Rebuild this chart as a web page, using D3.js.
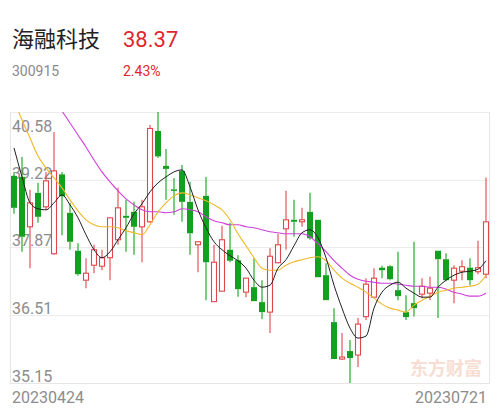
<!DOCTYPE html>
<html><head><meta charset="utf-8">
<script src="https://cdn.jsdelivr.net/npm/d3@7"></script>
<style>
html,body{margin:0;padding:0;background:#fff;}
svg{display:block;}
</style></head>
<body>
<svg id="chart" width="500" height="410"></svg>
<script>
const stockName = "海融科技";
const stockCode = "300915";
const lastPrice = "38.37";
const changePct = "2.43%";
const watermark = "东方财富";

const dates = ["20230424","20230425","20230426","20230427","20230428",
"20230504","20230505","20230508","20230509","20230510","20230511","20230512",
"20230515","20230516","20230517","20230518","20230519","20230522","20230523",
"20230524","20230525","20230526","20230529","20230530","20230531",
"20230601","20230602","20230605","20230606","20230607","20230608","20230609",
"20230612","20230613","20230614","20230615","20230616","20230619","20230620",
"20230621","20230626","20230627","20230628","20230629","20230630",
"20230703","20230704","20230705","20230706","20230707",
"20230710","20230711","20230712","20230713","20230714",
"20230717","20230718","20230719","20230720","20230721"];

const opens  = [39.30,39.28,38.28,38.96,38.68,37.74,39.33,38.56,37.80,37.21,37.51,37.49,37.66,38.02,38.50,38.58,38.28,38.38,40.20,39.50,
                39.03,39.40,38.78,37.92,38.90,36.78,36.99,37.82,37.61,36.97,37.07,36.77,36.57,37.56,38.24,38.42,38.38,38.58,38.42,37.31,
                36.37,35.63,35.79,35.71,36.48,36.87,37.46,37.49,37.01,36.57,36.75,36.93,36.95,37.80,37.63,37.21,37.39,37.46,37.38,37.33];
const highs  = [39.38,39.68,39.02,39.16,39.38,40.18,39.38,38.76,37.95,37.65,37.92,37.82,38.46,39.06,38.82,38.78,38.82,40.32,40.58,39.84,
                39.26,39.52,39.18,37.98,39.28,37.92,38.30,38.36,37.71,37.25,37.65,37.21,37.85,38.14,39.00,38.82,38.66,38.96,38.42,37.55,
                36.65,36.15,36.01,36.45,37.25,37.45,37.50,37.51,37.78,36.91,37.98,37.25,37.28,37.80,37.75,37.51,37.61,37.65,38.00,39.27];
const lows   = [38.54,37.78,37.45,38.36,38.62,37.72,38.11,37.82,37.30,37.05,37.35,37.41,37.21,37.92,37.78,37.72,37.57,38.36,39.66,38.82,
                38.52,38.38,37.72,37.37,36.81,36.78,36.99,37.57,36.88,36.87,36.79,36.43,36.15,37.55,37.82,38.08,38.28,38.02,37.27,36.81,
                35.63,35.61,35.15,35.47,36.41,36.87,37.25,37.21,36.81,36.41,36.48,36.85,36.81,36.45,37.19,36.75,37.21,37.11,37.33,37.25];
const closes = [38.66,38.08,38.76,38.48,39.20,39.40,38.89,37.98,37.33,37.35,37.82,37.66,38.46,38.66,38.46,38.28,38.68,40.25,39.69,39.44,
                39.01,38.78,38.15,37.98,37.57,37.57,38.02,37.60,37.03,37.25,36.79,36.57,37.69,37.92,38.42,38.38,38.42,38.05,37.27,36.81,
                35.63,35.67,35.65,36.33,37.13,37.25,37.41,37.23,36.89,36.47,36.65,37.09,37.05,37.63,37.21,37.45,37.48,37.21,37.46,38.38];

const ma5  = [39.86,39.28,38.76,38.64,38.62,38.76,38.92,38.72,38.46,38.12,37.82,37.66,37.78,38.02,38.26,38.54,38.74,38.98,39.16,39.28,
              39.38,39.42,39.08,38.62,38.26,37.98,37.82,37.70,37.60,37.45,37.21,37.07,37.11,37.45,37.62,37.90,38.16,38.22,38.06,37.66,
              37.11,36.65,36.25,36.05,36.09,36.65,36.97,37.11,37.17,37.05,36.95,36.87,36.87,37.07,37.21,37.31,37.37,37.39,37.43,37.60];
const ma10 = [40.82,40.42,40.06,39.70,39.46,39.26,39.06,38.82,38.60,38.42,38.32,38.28,38.28,38.26,38.20,38.16,38.12,38.32,38.58,38.76,
              38.90,38.96,38.92,38.86,38.80,38.72,38.62,38.42,38.14,37.90,37.66,37.45,37.41,37.41,37.51,37.58,37.62,37.66,37.68,37.60,
              37.41,37.25,37.15,37.07,36.97,36.85,36.73,36.65,36.61,36.57,36.71,36.81,36.89,36.97,37.01,37.05,37.07,37.09,37.13,37.31];
const ma20 = [42.04,41.80,41.56,41.32,41.08,40.84,40.60,40.36,40.12,39.88,39.62,39.38,39.18,39.00,38.84,38.72,38.62,38.58,38.58,38.56,
              38.58,38.64,38.62,38.58,38.48,38.40,38.36,38.32,38.32,38.28,38.26,38.22,38.18,38.16,38.14,38.14,38.14,38.08,37.94,37.78,
              37.60,37.45,37.31,37.23,37.19,37.17,37.15,37.15,37.13,37.11,37.09,37.09,37.07,37.07,37.03,36.97,36.93,36.89,36.89,36.95];

const yTicks = [40.58, 39.22, 37.87, 36.51, 35.15];
const yTickLabels = ["40.58","39.22","37.87","36.51","35.15"];

const svg = d3.select("#chart");
const pLeft = 10, pRight = 490, pTop = 112, pBottom = 383;
const upColor = "#e0464a", downColor = "#12a01e";

// header
svg.append("text").attr("x",12).attr("y",47).attr("font-family","'Noto Sans CJK SC', sans-serif")
  .attr("font-size",22).attr("fill","#222").text(stockName);
svg.append("text").attr("x",123).attr("y",47).attr("font-family","Roboto, sans-serif")
  .attr("font-size",22).attr("fill","#e0262e").text(lastPrice);
svg.append("text").attr("x",12).attr("y",76).attr("font-family","Roboto, sans-serif")
  .attr("font-size",14).attr("fill","#8a8a8a").text(stockCode);
svg.append("text").attr("x",123).attr("y",76).attr("font-family","Roboto, sans-serif")
  .attr("font-size",14).attr("fill","#e0262e").text(changePct);

const x = d3.scaleBand().domain(dates).range([pLeft, pRight]).paddingInner(0.25).paddingOuter(0.125);
const y = d3.scaleLinear().domain([yTicks[4], yTicks[0]]).range([pBottom, pTop]);

// grid
svg.append("g").selectAll("line").data(yTicks).join("line")
  .attr("x1",pLeft).attr("x2",pRight).attr("y1",d=>Math.round(y(d))+0.5).attr("y2",d=>Math.round(y(d))+0.5)
  .attr("stroke","#ececec").attr("stroke-width",1);
svg.append("line").attr("x1",pLeft+0.5).attr("x2",pLeft+0.5).attr("y1",pTop).attr("y2",pBottom).attr("stroke","#e6e6e6");
svg.append("line").attr("x1",pRight-0.5).attr("x2",pRight-0.5).attr("y1",pTop).attr("y2",pBottom).attr("stroke","#e6e6e6");

// watermark
svg.append("text").attr("x",482).attr("y",375).attr("text-anchor","end")
  .attr("font-family","'Noto Sans CJK SC', sans-serif").attr("font-weight",700)
  .attr("font-size",18).attr("fill","#f7ddd2").text(watermark);

// y labels
svg.append("g").selectAll("text").data(yTicks).join("text")
  .attr("x",12).attr("y",(d,i)=> i===0 ? y(d)+20 : y(d)-1)
  .attr("font-family","Roboto, sans-serif").attr("font-size",16).attr("fill","#8c8c8c")
  .text((d,i)=>yTickLabels[i]);

// candles
const candles = dates.map((d,i)=>({d, o:opens[i], h:highs[i], l:lows[i], c:closes[i]}));
const bw = x.bandwidth();
const g = svg.append("g");
candles.forEach(k=>{
  const up = k.c >= k.o;
  const col = up ? upColor : downColor;
  const cx = x(k.d) + bw/2;
  const yt = y(Math.max(k.o,k.c)), yb = y(Math.min(k.o,k.c));
  g.append("line").attr("x1",cx).attr("x2",cx).attr("y1",y(k.h)).attr("y2",yt)
    .attr("stroke",col).attr("stroke-width",1.1);
  g.append("line").attr("x1",cx).attr("x2",cx).attr("y1",yb).attr("y2",y(k.l))
    .attr("stroke",col).attr("stroke-width",1.1);
  if (up) {
    g.append("rect").attr("x",x(k.d)+0.5).attr("y",yt).attr("width",bw-1).attr("height",Math.max(1,yb-yt))
      .attr("fill","#fff").attr("stroke",col).attr("stroke-width",1.1);
  } else {
    g.append("rect").attr("x",x(k.d)).attr("y",yt).attr("width",bw).attr("height",Math.max(1.5,yb-yt))
      .attr("fill",col);
  }
});

// MA lines
svg.append("clipPath").attr("id","clip").append("rect")
  .attr("x",pLeft).attr("y",pTop).attr("width",pRight-pLeft).attr("height",pBottom-pTop);
const line = d3.line().x((d,i)=>x(dates[i])+bw/2).y(d=>y(d)).curve(d3.curveMonotoneX);
const lg = svg.append("g").attr("clip-path","url(#clip)");
lg.append("path").attr("d",line(ma20)).attr("fill","none").attr("stroke","#d040d8").attr("stroke-width",1.1);
lg.append("path").attr("d",line(ma10)).attr("fill","none").attr("stroke","#f0b82a").attr("stroke-width",1.1);
lg.append("path").attr("d",line(ma5)).attr("fill","none").attr("stroke","#222").attr("stroke-width",1);

// bottom frame
svg.append("line").attr("x1",pLeft).attr("x2",pRight).attr("y1",pBottom+0.5).attr("y2",pBottom+0.5).attr("stroke","#e6e6e6");

// x labels
svg.append("text").attr("x",12).attr("y",403).attr("font-family","Roboto, sans-serif")
  .attr("font-size",16).attr("fill","#8c8c8c").text(dates[0]);
svg.append("text").attr("x",487).attr("y",403).attr("text-anchor","end").attr("font-family","Roboto, sans-serif")
  .attr("font-size",16).attr("fill","#8c8c8c").text(dates[dates.length-1]);
</script>
</body></html>
